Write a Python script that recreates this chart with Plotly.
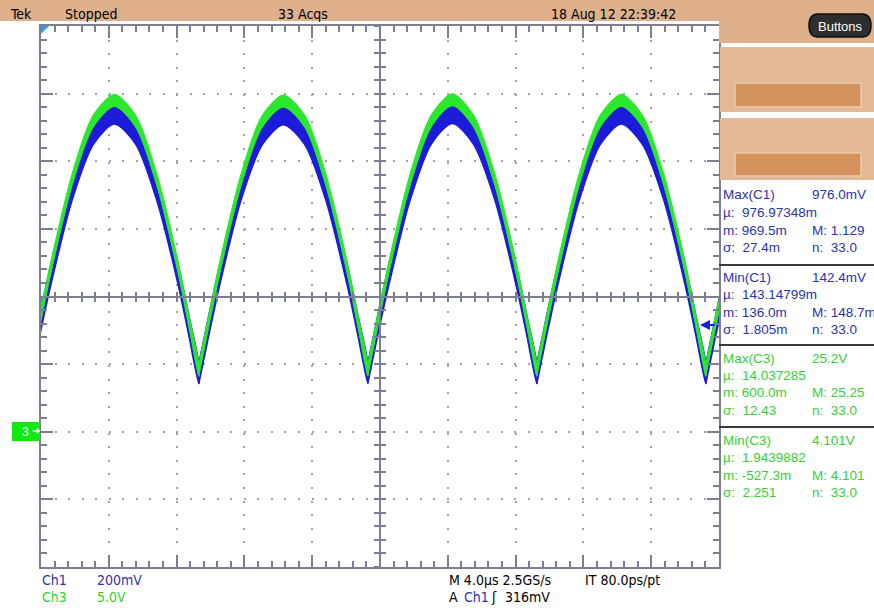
import plotly.graph_objects as go

# ---------------------------------------------------------------------------
# Acquired waveforms (persistence over 33 acquisitions)
# time in microseconds, Ch1 in volts (200 mV/div), Ch3 in volts (5 V/div)
# ---------------------------------------------------------------------------
t_us = [
    -20.66, -20.06, -19.41, -18.16, -16.91, -15.67, -14.42, -13.17, -11.92, -11.29,
    -10.69, -10.09, -9.44, -8.19, -6.94, -5.70, -4.45, -3.20, -1.95, -1.32,
    -0.72, -0.12, 0.53, 1.78, 3.03, 4.27, 5.52, 6.77, 8.02, 8.65,
    9.25, 9.85, 10.50, 11.75, 13.00, 14.24, 15.49, 16.74, 17.99, 18.62,
    19.22, 19.82, 20.47,
]
ch1_v = [
    0.172, 0.318, 0.466, 0.715, 0.880, 0.940, 0.881, 0.714, 0.467, 0.317,
    0.172, 0.317, 0.467, 0.716, 0.879, 0.938, 0.880, 0.715, 0.466, 0.318,
    0.173, 0.318, 0.465, 0.715, 0.881, 0.942, 0.880, 0.716, 0.465, 0.317,
    0.172, 0.318, 0.466, 0.714, 0.880, 0.940, 0.879, 0.715, 0.466, 0.318,
    0.172, 0.317, 0.466,
]
ch3_v = [
    4.55, 8.28, 12.19, 18.65, 22.98, 24.50, 22.97, 18.66, 12.20, 8.27,
    4.55, 8.27, 12.20, 18.66, 22.96, 24.45, 22.98, 18.65, 12.19, 8.28,
    4.56, 8.28, 12.18, 18.65, 22.99, 24.55, 22.97, 18.66, 12.18, 8.27,
    4.55, 8.28, 12.19, 18.64, 22.98, 24.50, 22.96, 18.65, 12.19, 8.28,
    4.55, 8.27, 12.19,
]
# half-width of the noise band seen in the persistence display
ch1_band_v = 0.030
ch3_band_v = 0.45

trigger_level_v = 0.316

# measurement readouts
meas_titles = ["Max(C1)", "Min(C1)", "Max(C3)", "Min(C3)"]
meas_values = ["976.0mV", "142.4mV", "25.2V", "4.101V"]
meas_mean = ["976.97348m", "143.14799m", "14.037285", "1.9439882"]
meas_min = ["969.5m", "136.0m", "600.0m", "-527.3m"]
meas_max = ["1.129", "148.7m", "25.25", "4.101"]
meas_sigma = ["27.4m", "1.805m", "12.43", "2.251"]
meas_n = ["33.0", "33.0", "33.0", "33.0"]
meas_channel = ["C1", "C1", "C3", "C3"]

# ---------------------------------------------------------------------------
# styling
# ---------------------------------------------------------------------------
W_FIG, H_FIG = 874, 608
L, R, T, B = 41, 719, 26, 567
PW, PH = R - L, B - T

FRAME = "#7b7f92"
GRID = "#a3a3a3"
BLUE = "#1c1cd8"
GREEN = "#2ce82c"
TXT_BLUE = "#2a33b0"
TXT_GREEN = "#36d036"
TAN = "#dfb08c"
TAN_BOX = "#e3b894"
ORANGE = "#d4925c"
NARROW = "Liberation Sans Narrow, DejaVu Sans Condensed, Arial Narrow, sans-serif"
SANS = "Liberation Sans, Arial, sans-serif"


def fx(x):
    return (x - L) / PW


def fy(y):
    return (B - y) / PH


def band_polygons(values, half):
    """Closed outline (upper edge forward, lower edge back) for each half-cycle."""
    n = len(values)
    cuts = [i for i in range(n)
            if (i == 0 or values[i] < values[i - 1]) and (i == n - 1 or values[i] < values[i + 1])]
    if cuts[-1] != n - 1:
        cuts.append(n - 1)
    xs, ys = [], []
    for a, b in zip(cuts[:-1], cuts[1:]):
        seg_t = t_us[a:b + 1]
        up = [v + half for v in values[a:b + 1]]
        lo = [v - half for v in values[a:b + 1]]
        xs += seg_t + seg_t[::-1] + [None]
        ys += up + lo[::-1] + [None]
    return xs, ys


fig = go.Figure()

gx, gy = band_polygons(ch3_v, ch3_band_v)
fig.add_trace(go.Scatter(
    x=gx, y=gy, yaxis="y2", mode="lines", fill="toself", fillcolor=GREEN,
    line=dict(color=GREEN, width=1, shape="spline", smoothing=0.8),
    hoverinfo="skip", connectgaps=False,
))
bx, by = band_polygons(ch1_v, ch1_band_v)
fig.add_trace(go.Scatter(
    x=bx, y=by, yaxis="y", mode="lines", fill="toself", fillcolor=BLUE,
    line=dict(color=BLUE, width=1.5, shape="spline", smoothing=0.8),
    hoverinfo="skip", connectgaps=False,
))

# empty traces so the centre-graticule axes are drawn
for xa, ya in [("x2", "y"), ("x3", "y"), ("x", "y3"), ("x", "y4")]:
    fig.add_trace(go.Scatter(x=[], y=[], xaxis=xa, yaxis=ya, hoverinfo="skip"))

x_range = [-20, 20]
y_range = [-0.4, 1.2]

frame_axis = dict(
    showline=True, linecolor=FRAME, linewidth=2, mirror="ticks",
    ticks="inside", ticklen=12, tickwidth=1.5, tickcolor=FRAME,
    showticklabels=False, zeroline=False, showgrid=True,
    gridcolor=GRID, gridwidth=2, fixedrange=True,
)

fig.update_layout(
    width=W_FIG, height=H_FIG,
    margin=dict(l=L, r=W_FIG - R, t=T, b=H_FIG - B, pad=0),
    paper_bgcolor="white", plot_bgcolor="white",
    showlegend=False, hovermode=False,
    xaxis=dict(range=x_range, tick0=0, dtick=4, griddash="2px,11.56px",
               minor=dict(dtick=0.8, tick0=0, ticks="inside", ticklen=6,
                          tickwidth=1.5, tickcolor=FRAME, showgrid=False),
               **frame_axis),
    yaxis=dict(range=y_range, tick0=0, dtick=0.2, griddash="2px,11.525px",
               minor=dict(dtick=0.04, tick0=0, ticks="inside", ticklen=6,
                          tickwidth=1.5, tickcolor=FRAME, showgrid=False),
               **frame_axis),
    yaxis2=dict(range=[-10, 30], overlaying="y", visible=False, fixedrange=True),
    # centre graticule with tick marks on both sides
    xaxis2=dict(range=x_range, overlaying="x", anchor="free", position=0.5,
                showline=True, linecolor=FRAME, linewidth=1.5,
                ticks="outside", ticklen=5, tickwidth=1.5, tickcolor=FRAME,
                tick0=0, dtick=0.8, showgrid=False, zeroline=False,
                showticklabels=False, fixedrange=True),
    xaxis3=dict(range=x_range, overlaying="x", anchor="free", position=0.5,
                showline=False, ticks="inside", ticklen=5, tickwidth=1.5,
                tickcolor=FRAME, tick0=0, dtick=0.8, showgrid=False,
                zeroline=False, showticklabels=False, fixedrange=True),
    yaxis3=dict(range=y_range, overlaying="y", anchor="free", position=0.5,
                showline=True, linecolor=FRAME, linewidth=1.5,
                ticks="outside", ticklen=5, tickwidth=1.5, tickcolor=FRAME,
                tick0=0, dtick=0.04, showgrid=False, zeroline=False,
                showticklabels=False, fixedrange=True),
    yaxis4=dict(range=y_range, overlaying="y", anchor="free", position=0.5,
                showline=False, ticks="inside", ticklen=5, tickwidth=1.5,
                tickcolor=FRAME, tick0=0, dtick=0.04, showgrid=False,
                zeroline=False, showticklabels=False, fixedrange=True),
)

shapes = []
annotations = []


def rect(x0, y0, x1, y1, fill, line=None, lw=0, layer="above"):
    shapes.append(dict(type="rect", xref="paper", yref="paper",
                       x0=fx(x0), x1=fx(x1), y0=fy(y1), y1=fy(y0),
                       fillcolor=fill, line=dict(color=line or fill, width=lw),
                       layer=layer))


def text(x, y, s, color="black", size=14, family=NARROW, xanchor="left"):
    annotations.append(dict(xref="paper", yref="paper", x=fx(x), y=fy(y),
                            text=s, showarrow=False, xanchor=xanchor,
                            yanchor="middle",
                            font=dict(color=color, size=size, family=family)))


# status bar along the top
rect(0, 0, W_FIG, 21, TAN)
rect(R, 0, W_FIG, 43, TAN)
text(8, 14, "Tek")
text(63, 14, "Stopped")
text(276, 14, "33 Acqs")
text(549, 14, "18 Aug 12 22:39:42")

# "Buttons" pill
shapes.append(dict(
    type="path", xref="paper", yref="paper",
    path=("M {a},{b} L {c},{b} Q {e},{b} {e},{m} Q {e},{d} {c},{d} "
          "L {a},{d} Q {f},{d} {f},{m} Q {f},{b} {a},{b} Z").format(
        a=fx(818), c=fx(862), e=fx(871), f=fx(809),
        b=fy(14), d=fy(37), m=fy(25.5)),
    fillcolor="#2e2e2e", line=dict(color="#111111", width=1.5), layer="above"))
text(840, 26, "Buttons", color="white", size=13, family=SANS, xanchor="center")

# menu boxes on the side panel
rect(R + 1, 47, W_FIG, 112, TAN_BOX)
rect(735, 83, 861, 107, ORANGE, line="#edcaa8", lw=1.5)
rect(R + 1, 118, W_FIG, 180, TAN_BOX)
rect(735, 153, 861, 176, ORANGE, line="#edcaa8", lw=1.5)

# measurement readouts
block_top = [195, 277, 358, 440]
row_step = 17.5
for i in range(4):
    col = TXT_BLUE if meas_channel[i] == "C1" else TXT_GREEN
    y0 = block_top[i]
    text(721, y0, meas_titles[i], col, 13.5, SANS)
    text(810, y0, meas_values[i], col, 13.5, SANS)
    text(721, y0 + row_step, "µ:  " + meas_mean[i], col, 13.5, SANS)
    text(721, y0 + 2 * row_step, "m: " + meas_min[i], col, 13.5, SANS)
    text(810, y0 + 2 * row_step, "M: " + meas_max[i], col, 13.5, SANS)
    text(721, y0 + 3 * row_step, "σ:  " + meas_sigma[i], col, 13.5, SANS)
    text(810, y0 + 3 * row_step, "n:  " + meas_n[i], col, 13.5, SANS)
for ysep in [265, 345, 427]:
    shapes.append(dict(type="line", xref="paper", yref="paper",
                       x0=fx(R), x1=fx(W_FIG), y0=fy(ysep), y1=fy(ysep),
                       line=dict(color="#3a3a3a", width=2), layer="above"))

# channel / timebase settings under the graticule
text(40, 580, "Ch1", TXT_BLUE)
text(95, 580, "200mV", TXT_BLUE)
text(40, 597, "Ch3", TXT_GREEN)
text(95, 597, "5.0V", TXT_GREEN)
text(447, 580, "M 4.0µs 2.5GS/s")
text(583, 580, "IT 80.0ps/pt")
text(447, 597, "A")
text(462, 597, "Ch1", TXT_BLUE)
text(489, 597, "ʃ")
text(503, 597, "316mV")

# channel 3 ground marker
rect(12, 422, 40, 441, "#12e812")
text(20, 432, "3", "white", 12, SANS)
text(30, 431, "➜", "white", 10, SANS)

# trigger position marker in the top-left corner
shapes.append(dict(type="path", xref="paper", yref="paper",
                   path="M {a},{b} L {c},{b} L {a},{d} Z".format(
                       a=fx(L), b=fy(T), c=fx(L + 8), d=fy(T + 8)),
                   fillcolor="#3a9be0", line=dict(color="#3a9be0", width=0),
                   layer="above"))

# trigger level arrow on the right edge
annotations.append(dict(xref="paper", yref="y", x=fx(700), y=trigger_level_v,
                        ax=16, ay=0, text="", showarrow=True, arrowhead=2,
                        arrowsize=1, arrowwidth=2, arrowcolor=BLUE))

fig.update_layout(shapes=shapes, annotations=annotations)

fig.write_html("out.html", config={"displayModeBar": False})
